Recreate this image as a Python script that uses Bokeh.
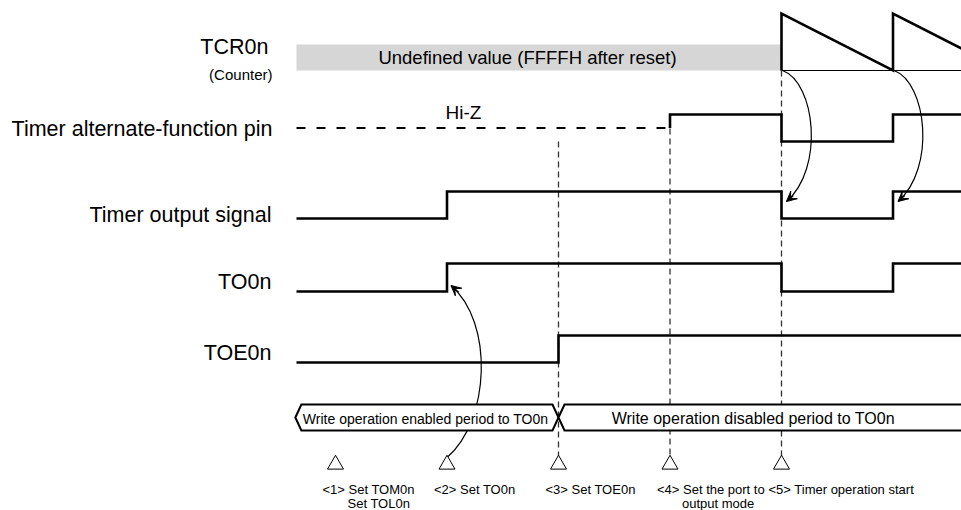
from bokeh.plotting import figure
from bokeh.models import Range1d, Arrow, VeeHead
from bokeh.embed import file_html
from bokeh.resources import INLINE
from bokeh.core.properties import value

# ---------------- data ----------------
signal_labels = ["TCR0n", "Timer alternate-function pin", "Timer output signal", "TO0n", "TOE0n"]
counter_sublabel = "(Counter)"
tcr_note = "Undefined value (FFFFH after reset)"
hiz_note = "Hi-Z"
bus_labels = ["Write operation enabled period to  TO0n", "Write operation disabled period to  TO0n"]

event_times = [1, 2, 3, 4, 5]
event_labels_1 = ["<1> Set TOM0n", "<2> Set TO0n", "<3> Set TOE0n", "<4> Set the port to", "<5> Timer operation start"]
event_labels_2 = ["Set TOL0n", "", "", "output mode", ""]

t_start = 0.65
t_end = 7.0

tcr_undefined_until = 5
tcr_t = [5, 5, 6, 6, 7]
tcr_v = [0, 1, 0, 1, 0]

hiz_until = 4
alt_t = [4, 4, 5, 6, 7]
alt_v = [0.5, 1, 0, 1, 1]

tout_t = [0.65, 2, 5, 6, 7]
tout_v = [0, 1, 0, 1, 1]

to0n_t = [0.65, 2, 5, 6, 7]
to0n_v = [0, 1, 0, 1, 1]

toe_t = [0.65, 3, 7]
toe_v = [0, 1, 1]

write_enabled_until = 3

# ---------------- layout ----------------
W, H = 961, 510
PX = 111.5           # pixels per time unit
X_EV1 = 335          # picture x of event 1
def t_of_px(px):
    return 1 + (px - X_EV1) / PX

rows = {  # (y_low, y_high) in picture pixels
    "TCR": (70, 13),
    "ALT": (141, 114),
    "TOUT": (218, 191),
    "TO0N": (291, 263),
    "TOE": (362, 335),
}
def ymap(vals, row):
    lo, hi = rows[row]
    return [lo + v * (hi - lo) for v in vals]

p = figure(width=W, height=H, output_backend="svg", toolbar_location=None,
           x_range=Range1d(t_of_px(0), t_of_px(W)), y_range=Range1d(H, 0),
           x_axis_location=None, y_axis_location=None, min_border=0,
           background_fill_color="white", border_fill_color="white")
p.grid.visible = False
p.outline_line_color = None

BLACK = "#000000"
FONT = value("Liberation Sans")
SIG_W = 2.6

# TCR gray box and counter
p.quad(left=t_start, right=tcr_undefined_until, top=44, bottom=70,
       fill_color="#d6d6d6", line_color=None)
p.segment(x0=tcr_undefined_until, y0=70, x1=t_end, y1=70, line_color=BLACK, line_width=1)

# dashed event guides
guide_events = [3, 4, 5]
guide_tops = [141, 128, 70]
p.segment(x0=guide_events, y0=guide_tops, x1=guide_events, y1=[456] * 3,
          line_color="#333333", line_width=1.3, line_dash="6 4")

# curved arrows
def curve_and_head(t0, y0, dx1, y1, dx2, y2, dxe, ye):
    x0 = t0
    c1x, c2x, ex = t0 + dx1 / PX, t0 + dx2 / PX, t0 + dxe / PX
    p.bezier(x0=x0, y0=y0, x1=ex, y1=ye, cx0=c1x, cy0=y1, cx1=c2x, cy1=y2,
             line_color=BLACK, line_width=1.2)
    sx = ex + 0.18 * (c2x - ex)
    sy = ye + 0.18 * (y2 - ye)
    p.add_layout(Arrow(end=VeeHead(size=10, fill_color=BLACK, line_color=BLACK, line_width=1),
                       x_start=sx, y_start=sy, x_end=ex, y_end=ye,
                       line_color=BLACK, line_width=1.2))

curve_and_head(5 + 1 / PX, 70, 33, 82, 42, 168, 4, 201)
curve_and_head(6 + 1 / PX, 70, 33, 82, 42, 168, 4, 201)
curve_and_head(2, 457, 43, 420, 47, 322, 4, 285)

# signals
p.line(tcr_t, ymap(tcr_v, "TCR"), line_color=BLACK, line_width=SIG_W, line_join="miter")
p.segment(x0=t_start, y0=ymap([0.5], "ALT")[0], x1=hiz_until, y1=ymap([0.5], "ALT")[0],
          line_color=BLACK, line_width=2.2, line_dash="9 11")
p.step(alt_t, ymap(alt_v, "ALT"), mode="after", line_color=BLACK, line_width=SIG_W, line_join="miter")
p.step(tout_t, ymap(tout_v, "TOUT"), mode="after", line_color=BLACK, line_width=SIG_W, line_join="miter")
p.step(to0n_t, ymap(to0n_v, "TO0N"), mode="after", line_color=BLACK, line_width=SIG_W, line_join="miter")
p.step(toe_t, ymap(toe_v, "TOE"), mode="after", line_color=BLACK, line_width=SIG_W, line_join="miter")

# bus
bt, bm, bb = 404, 417, 430
d = 6 / PX
bus_xs = [
    [t_start - 0.01, t_start - 0.01 + d, write_enabled_until - d, write_enabled_until,
     write_enabled_until - d, t_start - 0.01 + d],
    [write_enabled_until, write_enabled_until + d, t_end + 1, t_end + 1, write_enabled_until + d],
]
bus_ys = [[bm, bt, bt, bm, bb, bb], [bm, bt, bt, bb, bb]]
p.patches(bus_xs, bus_ys, fill_color="white", line_color=BLACK, line_width=2, line_join="miter")

# event triangles
p.scatter(x=event_times, y=[464] * 5, marker="triangle", size=16,
          fill_color="white", line_color=BLACK, line_width=1)

# texts
label_ys = [46, 128, 214, 281, 352]
p.text(x=[t_start] * 5, y=label_ys, text=signal_labels, text_align="right", text_baseline="middle",
       x_offset=[-28, -24, -25, -25, -25], text_font=FONT, text_font_size=value("21.5px"), text_color=BLACK)
p.text(x=[t_start], y=[74], text=[counter_sublabel], text_align="right", text_baseline="middle",
       x_offset=-24, text_font=FONT, text_font_size=value("15px"), text_color=BLACK)
p.text(x=[t_of_px(527)], y=[57], text=[tcr_note], text_align="center", text_baseline="middle",
       text_font=FONT, text_font_size=value("18.5px"), text_color=BLACK)
p.text(x=[t_of_px(463)], y=[112], text=[hiz_note], text_align="center", text_baseline="middle",
       text_font=FONT, text_font_size=value("19px"), text_color=BLACK)
p.text(x=[t_of_px(427)], y=[418], text=[bus_labels[0]], text_align="center", text_baseline="middle",
       text_font=FONT, text_font_size=value("14px"), text_color=BLACK)
p.text(x=[t_of_px(755)], y=[418], text=[bus_labels[1]], text_align="center", text_baseline="middle",
       text_font=FONT, text_font_size=value("16px"), text_color=BLACK)
p.text(x=event_times, y=[489] * 5, text=event_labels_1, text_align="left", text_baseline="middle",
       x_offset=-13, text_font=FONT, text_font_size=value("13px"), text_color=BLACK)
p.text(x=event_times, y=[503] * 5, text=event_labels_2, text_align="left", text_baseline="middle",
       x_offset=12, text_font=FONT, text_font_size=value("13px"), text_color=BLACK)

open("out.html", "w").write(file_html(p, INLINE))
